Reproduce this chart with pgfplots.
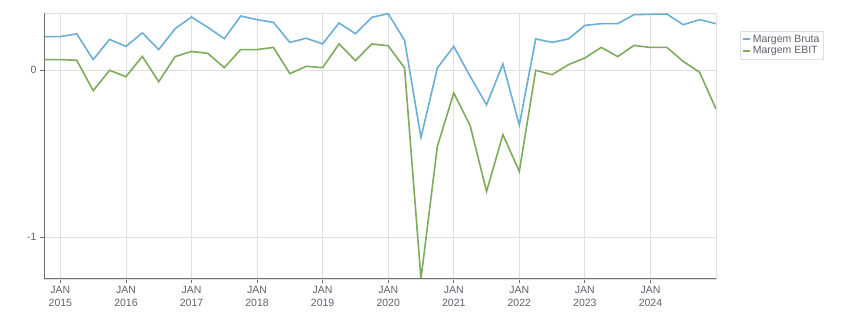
\documentclass[border=0pt]{standalone}
\usepackage{fontspec}
\setmainfont{Liberation Sans}
\usepackage{pgfplots}
\pgfplotsset{compat=1.18}
\definecolor{cblue}{RGB}{107,174,214}
\definecolor{cgreen}{RGB}{127,171,92}
\definecolor{cgrid}{RGB}{224,224,224}
\definecolor{caxis}{RGB}{112,112,112}
\definecolor{ctext}{RGB}{96,96,110}
\begin{document}
\begin{tikzpicture}[x=1pt,y=1pt]
\useasboundingbox (0,0) rectangle (851,313);
\begin{axis}[
  at={(44pt,34pt)}, anchor=south west,
  scale only axis, width=672pt, height=266pt,
  xmin=2014.75, xmax=2025.0, ymin=-1.251, ymax=0.341,
  xtick={2015,2016,2017,2018,2019,2020,2021,2022,2023,2024},
  xticklabels={{JAN\\2015},{JAN\\2016},{JAN\\2017},{JAN\\2018},{JAN\\2019},{JAN\\2020},{JAN\\2021},{JAN\\2022},{JAN\\2023},{JAN\\2024}},
  ytick={-1,0}, yticklabels={-1,0},
  xticklabel style={align=center, font=\fontsize{10.5}{12.5}\selectfont, text=ctext},
  yticklabel style={font=\fontsize{10.5}{12.5}\selectfont, text=ctext},
  xtick pos=bottom, ytick pos=left,
  tick align=outside, major tick length=4pt,
  tick style={caxis, line width=0.8pt},
  grid=major, grid style={cgrid, line width=0.8pt},
  axis line style={cgrid, line width=0.8pt},
  legend style={at={(1.0357,0.932)}, anchor=north west, draw=cgrid, line width=0.8pt,
    font=\fontsize{10.5}{12}\selectfont, text=ctext, inner sep=1.5pt, row sep=-1pt},
  legend cell align=left,
  legend image code/.code={\draw[line width=2pt, #1] (0pt,0pt) -- (7pt,0pt);},
  every axis plot/.append style={line width=1.6pt},
]
\addplot[color=cblue] coordinates {
(2014.75,0.200) (2015.00,0.200) (2015.25,0.216) (2015.50,0.062) (2015.75,0.183)
(2016.00,0.141) (2016.25,0.222) (2016.50,0.122) (2016.75,0.247) (2017.00,0.317)
(2017.25,0.255) (2017.50,0.187) (2017.75,0.323) (2018.00,0.301) (2018.25,0.285)
(2018.50,0.165) (2018.75,0.190) (2019.00,0.156) (2019.25,0.281) (2019.50,0.217)
(2019.75,0.315) (2020.00,0.337) (2020.25,0.177) (2020.50,-0.404) (2020.75,0.012)
(2021.00,0.141) (2021.25,-0.038) (2021.50,-0.208) (2021.75,0.036) (2022.00,-0.330)
(2022.25,0.186) (2022.50,0.165) (2022.75,0.186) (2023.00,0.267) (2023.25,0.277)
(2023.50,0.277) (2023.75,0.331) (2024.00,0.333) (2024.25,0.335) (2024.50,0.271)
(2024.75,0.301) (2025.00,0.277)
};
\addlegendentry{Margem Bruta}
\addplot[color=cgreen] coordinates {
(2014.75,0.062) (2015.00,0.062) (2015.25,0.058) (2015.50,-0.124) (2015.75,-0.002)
(2016.00,-0.040) (2016.25,0.081) (2016.50,-0.070) (2016.75,0.080) (2017.00,0.111)
(2017.25,0.099) (2017.50,0.014) (2017.75,0.122) (2018.00,0.122) (2018.25,0.135)
(2018.50,-0.022) (2018.75,0.022) (2019.00,0.014) (2019.25,0.156) (2019.50,0.056)
(2019.75,0.156) (2020.00,0.145) (2020.25,0.012) (2020.50,-1.25) (2020.75,-0.457)
(2021.00,-0.138) (2021.25,-0.333) (2021.50,-0.727) (2021.75,-0.387) (2022.00,-0.607)
(2022.25,-0.002) (2022.50,-0.028) (2022.75,0.032) (2023.00,0.072) (2023.25,0.135)
(2023.50,0.080) (2023.75,0.147) (2024.00,0.135) (2024.25,0.135) (2024.50,0.051)
(2024.75,-0.014) (2025.00,-0.234)
};
\addlegendentry{Margem EBIT}
\draw[caxis, line width=1.2pt] (rel axis cs:0,0) -- (rel axis cs:0,1);
\draw[caxis, line width=2pt] (rel axis cs:0,0) -- (rel axis cs:1,0);
\end{axis}
\end{tikzpicture}
\end{document}
